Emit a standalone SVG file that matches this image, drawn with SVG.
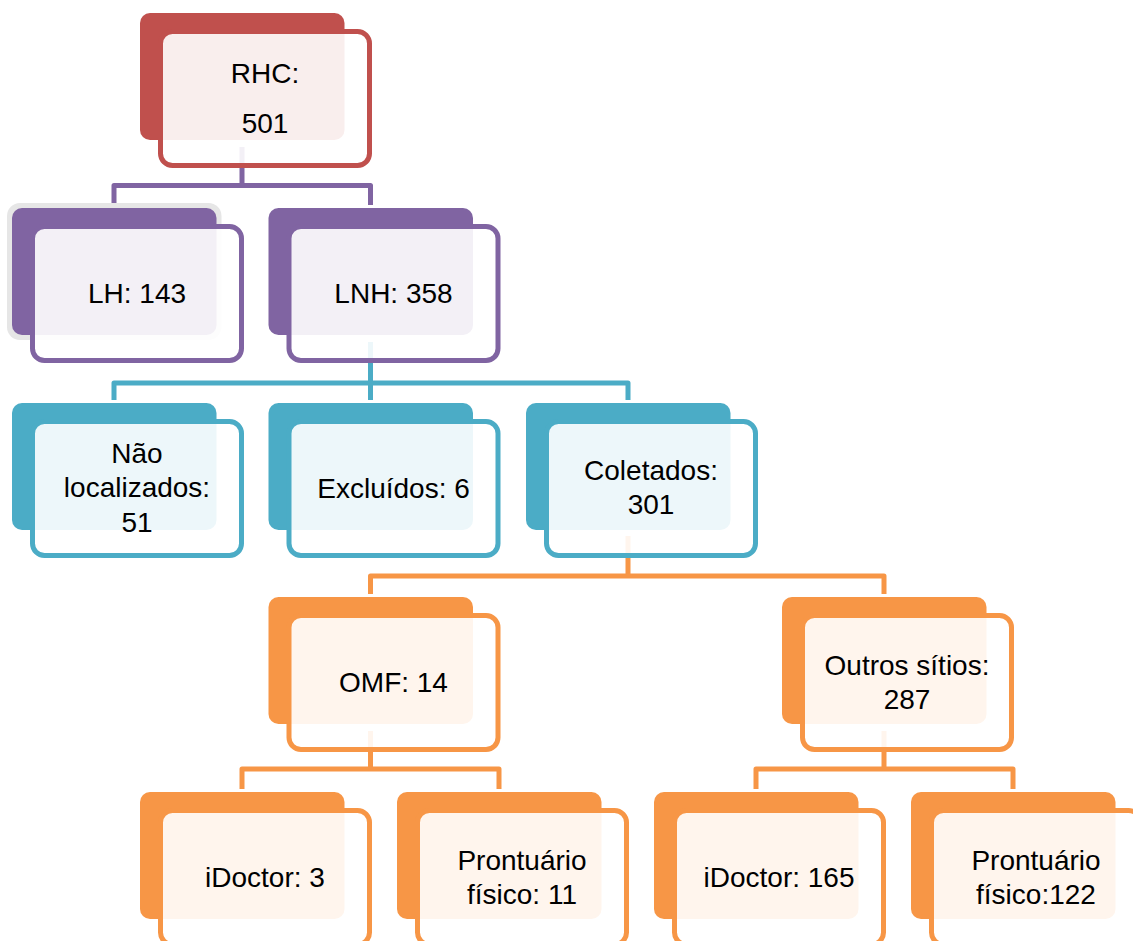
<svg xmlns="http://www.w3.org/2000/svg" width="1133" height="941" viewBox="0 0 1133 941">
<style>
.back{stroke:none}
.front{fill:#ffffff;fill-opacity:0.9;stroke-width:5}
.conn{fill:none;stroke-width:5;stroke-linejoin:round;stroke-linecap:butt}
.t{font-family:"Liberation Sans",Arial,sans-serif;font-size:28px;fill:#000;text-anchor:middle}
.red .back{fill:#C0504D}.red .front{stroke:#C0504D}
.pur .back{fill:#8064A2}.pur .front{stroke:#8064A2}
.teal .back{fill:#4BACC6}.teal .front{stroke:#4BACC6}
.org .back{fill:#F79646}.org .front{stroke:#F79646}
</style>
<rect width="1133" height="941" fill="#ffffff"/>
<g id="connectors">
<path class="conn" stroke="#8064A2" d="M242,147 V185.5 M114,205 V185.5 H370.5 V205"/>
<path class="conn" stroke="#4BACC6" d="M370.5,342 V400 M114,400 V383 H628 V400"/>
<path class="conn" stroke="#F79646" d="M628,536 V576 M370.5,594 V576 H884 V594"/>
<path class="conn" stroke="#F79646" d="M370.5,731 V769 M242,789 V769 H499 V789"/>
<path class="conn" stroke="#F79646" d="M884,731 V769 M756,789 V769 H1013 V789"/>
</g>
<g id="node-rhc" class="red">
<rect class="back" x="140" y="13" width="204.5" height="127" rx="10"/>
<rect class="front" x="160.5" y="31.5" width="209" height="134" rx="12"/>
<text class="t" x="265" y="83">RHC:</text>
<text class="t" x="265" y="133">501</text>
</g>
<g id="node-lh" class="pur">
<rect x="7" y="203" width="214.5" height="137" rx="13" fill="#E6E6E6"/>
<rect class="back" x="12" y="208" width="204.5" height="127" rx="10"/>
<rect class="front" x="32.5" y="226.5" width="209" height="134" rx="12"/>
<text class="t" x="137" y="303">LH: 143</text>
</g>
<g id="node-lnh" class="pur">
<rect class="back" x="268.5" y="208" width="204.5" height="127" rx="10"/>
<rect class="front" x="289" y="226.5" width="209" height="134" rx="12"/>
<text class="t" x="393.5" y="303">LNH: 358</text>
</g>
<g id="node-nao" class="teal">
<rect class="back" x="12" y="403" width="204.5" height="127" rx="10"/>
<rect class="front" x="32.5" y="421.5" width="209" height="134" rx="12"/>
<text class="t" x="137" y="463">Não</text>
<text class="t" x="137" y="497">localizados:</text>
<text class="t" x="137" y="532">51</text>
</g>
<g id="node-excl" class="teal">
<rect class="back" x="268.5" y="403" width="204.5" height="127" rx="10"/>
<rect class="front" x="289" y="421.5" width="209" height="134" rx="12"/>
<text class="t" x="393.5" y="498">Excluídos: 6</text>
</g>
<g id="node-colet" class="teal">
<rect class="back" x="526" y="403" width="204.5" height="127" rx="10"/>
<rect class="front" x="546.5" y="421.5" width="209" height="134" rx="12"/>
<text class="t" x="651" y="480">Coletados:</text>
<text class="t" x="651" y="514">301</text>
</g>
<g id="node-omf" class="org">
<rect class="back" x="268.5" y="597" width="204.5" height="127" rx="10"/>
<rect class="front" x="289" y="615.5" width="209" height="134" rx="12"/>
<text class="t" x="393.5" y="692">OMF: 14</text>
</g>
<g id="node-outros" class="org">
<rect class="back" x="782" y="597" width="204.5" height="127" rx="10"/>
<rect class="front" x="802.5" y="615.5" width="209" height="134" rx="12"/>
<text class="t" x="907" y="675">Outros sítios:</text>
<text class="t" x="907" y="709">287</text>
</g>
<g id="node-idoc3" class="org">
<rect class="back" x="140" y="792" width="204.5" height="127" rx="10"/>
<rect class="front" x="160.5" y="810.5" width="209" height="134" rx="12"/>
<text class="t" x="265" y="887">iDoctor: 3</text>
</g>
<g id="node-pront11" class="org">
<rect class="back" x="397" y="792" width="204.5" height="127" rx="10"/>
<rect class="front" x="417.5" y="810.5" width="209" height="134" rx="12"/>
<text class="t" x="522" y="870">Prontuário</text>
<text class="t" x="522" y="904">físico: 11</text>
</g>
<g id="node-idoc165" class="org">
<rect class="back" x="654" y="792" width="204.5" height="127" rx="10"/>
<rect class="front" x="674.5" y="810.5" width="209" height="134" rx="12"/>
<text class="t" x="779" y="887">iDoctor: 165</text>
</g>
<g id="node-pront122" class="org">
<rect class="back" x="911" y="792" width="204.5" height="127" rx="10"/>
<rect class="front" x="931.5" y="810.5" width="209" height="134" rx="12"/>
<text class="t" x="1036" y="870">Prontuário</text>
<text class="t" x="1036" y="904">físico:122</text>
</g>
</svg>
